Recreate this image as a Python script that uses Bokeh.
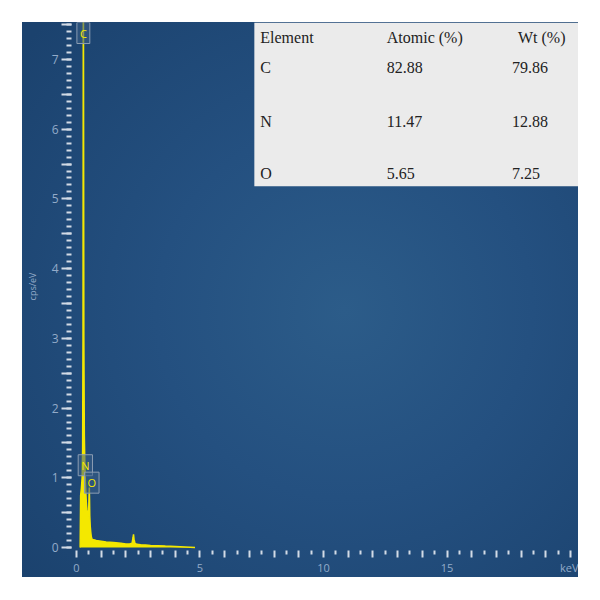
from bokeh.plotting import figure
from bokeh.embed import file_html
from bokeh.resources import INLINE
from bokeh.models import CustomJSTickFormatter, FixedTicker, Label, ColumnDataSource
from bokeh.core.properties import value
import numpy as np

# ---- spectrum data (keV, cps/eV) ----
energy = [0.15, 0.17, 0.20, 0.23, 0.25, 0.265, 0.275, 0.28, 0.29, 0.30, 0.32, 0.34,
          0.36, 0.38, 0.40, 0.42, 0.44, 0.46, 0.48, 0.50, 0.51, 0.52, 0.53, 0.54,
          0.56, 0.58, 0.60, 0.63, 0.70, 0.80, 1.00, 1.20, 1.50, 1.80, 2.00, 2.15,
          2.25, 2.29, 2.31, 2.33, 2.37, 2.45, 2.60, 2.80, 3.00, 3.30, 3.60, 4.00,
          4.40, 4.80]
cps = [0.00, 0.75, 0.85, 1.00, 1.40, 3.00, 7.00, 9.00, 6.00, 3.00, 1.60, 1.20,
       0.95, 0.80, 0.65, 0.55, 0.48, 0.42, 0.45, 0.60, 0.75, 0.86, 0.70, 0.45,
       0.30, 0.22, 0.16, 0.12, 0.11, 0.10, 0.09, 0.08, 0.07, 0.06, 0.05, 0.05,
       0.06, 0.14, 0.19, 0.12, 0.06, 0.045, 0.04, 0.035, 0.03, 0.025, 0.02, 0.015,
       0.008, 0.0]

# element markers
marker_elements = ["C", "N", "O"]
marker_energy = [0.28, 0.36, 0.62]
marker_level = [7.53, 1.18, 0.93]

# quantification table
table_header = ["Element", "Atomic (%)", "Wt (%)"]
table_elements = ["C", "N", "O"]
table_atomic = ["82.88", "11.47", "5.65"]
table_wt = ["79.86", "12.88", "7.25"]

X_START, X_END = -0.2, 20.32
Y_START, Y_END = -0.043, 7.53
YELLOW = "#f4e800"
TICK_COLOR = "#d3dbe6"
LABEL_COLOR = "#93abc9"

p = figure(width=556, height=555, x_range=(X_START, X_END), y_range=(Y_START, Y_END),
           output_backend="svg", toolbar_location=None,
           min_border_left=46, min_border_right=0, min_border_top=0, min_border_bottom=24,
           border_fill_color=None, background_fill_color=None, outline_line_color=None,
           margin=(22, 0, 0, 22),
           styles={"background": "radial-gradient(ellipse 75% 75% at 58% 52%, #2c5c89 0%, #245080 45%, #1b426e 100%)"})
p.grid.visible = False

# spectrum
p.varea(x=energy, y1=0, y2=cps, fill_color=YELLOW, fill_alpha=1)
p.line(x=energy, y=cps, line_color=YELLOW, line_width=1.5)

# axes
xa = p.xaxis[0]
xa.ticker = FixedTicker(ticks=list(np.arange(0, 20.01, 1.0)),
                        minor_ticks=list(np.arange(0.5, 20.01, 1.0)))
xa.formatter = CustomJSTickFormatter(code="""
  if (Math.abs(tick - 20) < 1e-6) return "keV";
  if (Math.abs(tick % 5) < 1e-6) return tick.toFixed(0);
  return "";
""")
xa.axis_line_color = None
xa.major_tick_line_color = TICK_COLOR
xa.minor_tick_line_color = TICK_COLOR
xa.major_tick_line_width = 2
xa.minor_tick_line_width = 2
xa.major_tick_out = 7
xa.major_tick_in = 0
xa.minor_tick_out = 4
xa.minor_tick_in = 0
xa.major_label_standoff = 2
xa.major_label_text_font = "Open Sans"
xa.major_label_text_font_size = "11px"
xa.major_label_text_color = LABEL_COLOR

ya = p.yaxis[0]
ya.ticker = FixedTicker(ticks=list(np.arange(0, 7.51, 0.5)),
                        minor_ticks=list(np.arange(0, 7.51, 0.1)))
ya.formatter = CustomJSTickFormatter(code="""
  if (Math.abs(tick - Math.round(tick)) < 1e-6) return Math.round(tick).toString();
  return "";
""")
ya.axis_line_color = None
ya.major_tick_line_color = TICK_COLOR
ya.minor_tick_line_color = TICK_COLOR
ya.major_tick_line_width = 2
ya.minor_tick_line_width = 2
ya.major_tick_out = 10
ya.major_tick_in = 0
ya.minor_tick_out = 5
ya.minor_tick_in = 0
ya.major_label_standoff = 3
ya.major_label_text_font = "Open Sans"
ya.major_label_text_font_size = "12px"
ya.major_label_text_color = LABEL_COLOR
ya.axis_label = "cps/eV"
ya.axis_label_text_font = "Open Sans"
ya.axis_label_text_font_size = "9px"
ya.axis_label_text_font_style = "normal"
ya.axis_label_text_color = LABEL_COLOR
ya.axis_label_standoff = 10

# element marker labels
for el, ex, ey in zip(marker_elements, marker_energy, marker_level):
    lab = Label(x=ex, y=ey, text=el, text_align="center",
                text_baseline="top" if el == "C" else "middle",
                y_offset=0,
                text_font="Open Sans", text_font_size="11px", text_color=YELLOW,
                background_fill_color="#3a5f86", background_fill_alpha=0.55,
                border_line_color="#8b9db3", border_line_width=1, padding=3)
    p.add_layout(lab)

# table
TABLE_LEFT, TABLE_BOTTOM = 7.2, 5.18
p.quad(left=[TABLE_LEFT], right=[X_END], bottom=[TABLE_BOTTOM], top=[Y_END],
       fill_color="#ebebeb", line_color=None)
col_x = [7.44, 12.56, 17.63]
row_y = [6.88, 6.11, 5.36]
header_x = [7.44, 12.56, 17.87]
header_y = 7.31
tx, ty, tt = [], [], []
for hx, h in zip(header_x, table_header):
    tx.append(hx); ty.append(header_y); tt.append(h)
for ry, e, a, w in zip(row_y, table_elements, table_atomic, table_wt):
    for cx, t in zip(col_x, [e, a, w]):
        tx.append(cx); ty.append(ry); tt.append(t)
src = ColumnDataSource(dict(x=tx, y=ty, text=tt))
p.text(x="x", y="y", text="text", source=src, text_font=value("Liberation Serif"),
       text_font_size="16px", text_color="#222222", text_baseline="middle",
       text_align="left")

open("out.html", "w").write(file_html(p, INLINE))
